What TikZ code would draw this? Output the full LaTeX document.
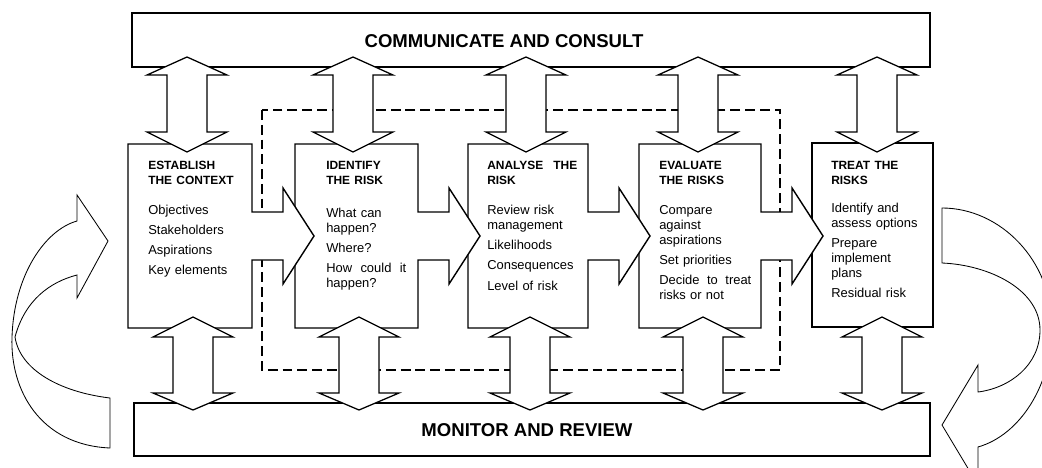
\documentclass[tikz,border=0pt]{standalone}
\usepackage{fontspec}
\setmainfont{Liberation Sans}
\usepackage{tikz}
\usetikzlibrary{positioning}

\newcommand{\stagetitle}{\fontsize{8.5}{10.7}\selectfont\bfseries}

\begin{document}
\begin{tikzpicture}[x=0.025cm, y=-0.025cm,
    bar/.style={draw=black, line width=1.2pt, fill=white},
    stage/.style={draw=black, line width=1pt, fill=white},
    updown/.style={draw=black, line width=0.9pt, fill=white},
    loop/.style={draw=black, line width=0.6pt, fill=white},
    feedback/.style={draw=black, line width=0.9pt, dash pattern=on 7pt off 3.5pt},
    bartext/.style={inner sep=0pt, font=\fontsize{13.2}{15}\selectfont\bfseries},
    stagetext/.style={anchor=base west, inner sep=0pt, font=\fontsize{9.2}{10.7}\selectfont}
]
\useasboundingbox (0,0) rectangle (1042,468);
\clip (0,0) rectangle (1042,468);

% bars
\draw[bar] (132,13) rectangle (930,67);
\draw[bar] (134,403) rectangle (930,456);

% dashed loop behind the stages
\draw[feedback] (262,110) rectangle (780,370);

% stages, right to left
\draw[stage] (812,143) rectangle (933,327);
\draw[stage] (639,144) -- (761,144) -- ++(0,68) -- ++(31,0) -- ++(0,-24) -- ++(31,48) -- ++(-31,48) -- ++(0,-24) -- ++(-31,0) -- (761,328) -- (639,328) -- cycle;
\draw[stage] (468,144) -- (588,144) -- ++(0,68) -- ++(31,0) -- ++(0,-24) -- ++(31,48) -- ++(-31,48) -- ++(0,-24) -- ++(-31,0) -- (588,328) -- (468,328) -- cycle;
\draw[stage] (295,144) -- (418,144) -- ++(0,68) -- ++(31,0) -- ++(0,-24) -- ++(31,48) -- ++(-31,48) -- ++(0,-24) -- ++(-31,0) -- (418,328) -- (295,328) -- cycle;
\draw[stage] (128,144) -- (252,144) -- ++(0,68) -- ++(31,0) -- ++(0,-24) -- ++(31,48) -- ++(-31,48) -- ++(0,-24) -- ++(-31,0) -- (252,328) -- (128,328) -- cycle;

% double arrows to the top bar
\draw[updown] (187,57) -- ++(40,18) -- ++(-20,0) -- ++(0,57) -- ++(20,0) -- ++(-40,20) -- ++(-40,-20) -- ++(20,0) -- ++(0,-57) -- ++(-20,0) -- cycle;
\draw[updown] (353,57) -- ++(40,18) -- ++(-20,0) -- ++(0,57) -- ++(20,0) -- ++(-40,20) -- ++(-40,-20) -- ++(20,0) -- ++(0,-57) -- ++(-20,0) -- cycle;
\draw[updown] (526,57) -- ++(40,18) -- ++(-20,0) -- ++(0,57) -- ++(20,0) -- ++(-40,20) -- ++(-40,-20) -- ++(20,0) -- ++(0,-57) -- ++(-20,0) -- cycle;
\draw[updown] (698,57) -- ++(40,18) -- ++(-20,0) -- ++(0,57) -- ++(20,0) -- ++(-40,20) -- ++(-40,-20) -- ++(20,0) -- ++(0,-57) -- ++(-20,0) -- cycle;
\draw[updown] (877,57) -- ++(40,18) -- ++(-20,0) -- ++(0,57) -- ++(20,0) -- ++(-40,20) -- ++(-40,-20) -- ++(20,0) -- ++(0,-57) -- ++(-20,0) -- cycle;

% double arrows to the bottom bar
\draw[updown] (193,317) -- ++(40,20) -- ++(-20,0) -- ++(0,56) -- ++(20,0) -- ++(-40,17) -- ++(-40,-17) -- ++(20,0) -- ++(0,-56) -- ++(-20,0) -- cycle;
\draw[updown] (359,317) -- ++(40,20) -- ++(-20,0) -- ++(0,56) -- ++(20,0) -- ++(-40,17) -- ++(-40,-17) -- ++(20,0) -- ++(0,-56) -- ++(-20,0) -- cycle;
\draw[updown] (530,317) -- ++(40,20) -- ++(-20,0) -- ++(0,56) -- ++(20,0) -- ++(-40,17) -- ++(-40,-17) -- ++(20,0) -- ++(0,-56) -- ++(-20,0) -- cycle;
\draw[updown] (703,317) -- ++(40,20) -- ++(-20,0) -- ++(0,56) -- ++(20,0) -- ++(-40,17) -- ++(-40,-17) -- ++(20,0) -- ++(0,-56) -- ++(-20,0) -- cycle;
\draw[updown] (882,317) -- ++(40,20) -- ++(-20,0) -- ++(0,56) -- ++(20,0) -- ++(-40,17) -- ++(-40,-17) -- ++(20,0) -- ++(0,-56) -- ++(-20,0) -- cycle;

% curved arrows at the sides
\draw[loop] (110,448) .. controls (40,445) and (10,390) .. (12,337) .. controls (14,275) and (45,230) .. (77,221) -- (77,195) -- (108,241) -- (77,298) -- (77,275) .. controls (50,282) and (25,300) .. (15,337) .. controls (20,370) and (60,392) .. (110,398) -- cycle;
\draw[loop] (942,208) .. controls (1000,208) and (1052,260) .. (1052,327) .. controls (1052,385) and (1020,435) .. (978,447) -- (978,485) -- (942,425) -- (978,365) -- (978,392) .. controls (1010,388) and (1040,365) .. (1040,330) .. controls (1040,290) and (990,265) .. (942,263) -- cycle;

% texts
\node[bartext] (comm) at (504,41) {COMMUNICATE AND CONSULT};
\node[bartext] (monitor) at (527,430) {MONITOR AND REVIEW};

\node[stagetext, text width=2.5cm] (context) at (148,169.5) {{\stagetitle ESTABLISH\\THE CONTEXT}\\[10.7pt]Objectives\\[3.6pt]Stakeholders\\[3.6pt]Aspirations\\[3.6pt]Key elements};
\node[stagetext, text width=2cm] (identify) at (326,169.5) {{\stagetitle IDENTIFY\\THE RISK}\\[12.5pt]What can\\happen?\\[3.6pt]Where?\\[3.6pt]How\hfill could\hfill it\\happen?};
\node[stagetext, text width=2.25cm] (analyse) at (487,169.5) {{\stagetitle ANALYSE\hfill THE\\RISK}\\[10.7pt]Review risk\\management\\[3.6pt]Likelihoods\\[3.6pt]Consequences\\[3.6pt]Level of risk};
\node[stagetext, text width=2.3cm] (evaluate) at (659,169.5) {{\stagetitle EVALUATE\\THE RISKS}\\[10.7pt]Compare\\against\\aspirations\\[3.6pt]Set priorities\\[3.6pt]Decide\hfill to\hfill treat\\risks or not};
\node[stagetext, text width=2.5cm] (treat) at (831,169.5) {{\stagetitle TREAT THE\\RISKS}\\[9pt]Identify and\\assess options\\[3.6pt]Prepare\\implement\\plans\\[3.6pt]Residual risk};
\end{tikzpicture}
\end{document}
